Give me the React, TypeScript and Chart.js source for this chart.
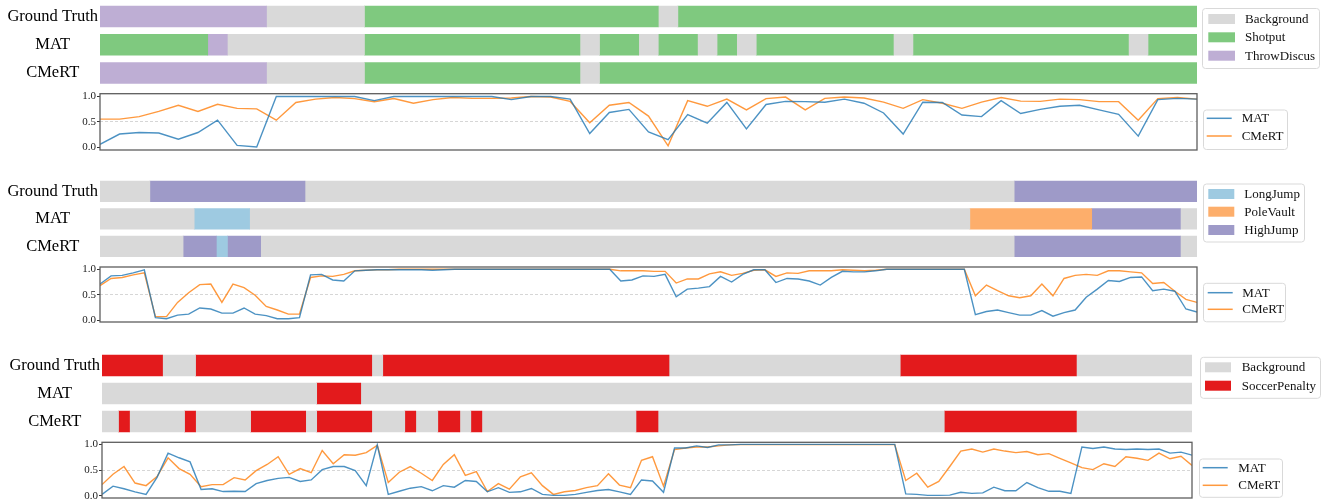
import React, { useEffect, useRef } from 'react';
import { Chart, registerables } from 'chart.js';

Chart.register(...registerables);

const PAGE_W = 1329;
const SERIF = '"Liberation Serif", "Times New Roman", Times, serif';

const ROW_LABELS = ['Ground Truth', 'MAT', 'CMeRT'];
const SCORE_NAMES = ['MAT', 'CMeRT'];
const SCORE_COLORS = ['rgba(31,119,180,0.8)', 'rgba(255,127,14,0.8)'];
const BG = '#d9d9d9';

// Segment runs are [class index, first frame, last frame].

// ---- Clip 1: Shotput / ThrowDiscus (57 frames) ----
const CLIP1_CLASSES = ['Background', 'Shotput', 'ThrowDiscus'];
const CLIP1_COLORS = [BG, '#7fc97f', '#beaed4'];
const CLIP1_LEGEND = [0, 1, 2];
const CLIP1_GT = [[2, 0, 8], [0, 9, 13], [1, 14, 28], [0, 29, 29], [1, 30, 56]];
const CLIP1_MAT = [
  [1, 0, 5], [2, 6, 6], [0, 7, 13], [1, 14, 24], [0, 25, 25], [1, 26, 27], [0, 28, 28],
  [1, 29, 30], [0, 31, 31], [1, 32, 32], [0, 33, 33], [1, 34, 40], [0, 41, 41],
  [1, 42, 52], [0, 53, 53], [1, 54, 56],
];
const CLIP1_CMERT = [[2, 0, 8], [0, 9, 13], [1, 14, 24], [0, 25, 25], [1, 26, 56]];
const CLIP1_MAT_SCORE = [
  0.06, 0.26, 0.29, 0.28, 0.16, 0.29, 0.53, 0.04, 0.01, 0.99,
  0.99, 0.99, 0.99, 0.99, 0.91, 0.99, 0.99, 0.99, 0.99, 0.99,
  0.99, 0.93, 0.99, 0.99, 0.94, 0.27, 0.68, 0.74, 0.30, 0.15,
  0.64, 0.47, 0.875, 0.36, 0.835, 0.895, 0.89, 0.88, 0.94, 0.86,
  0.67, 0.26, 0.88, 0.875, 0.63, 0.60, 0.91, 0.66, 0.74, 0.80,
  0.82, 0.73, 0.645, 0.22, 0.93, 0.955, 0.94,
];
const CLIP1_CMERT_SCORE = [
  0.55, 0.55, 0.60, 0.70, 0.82, 0.70, 0.84, 0.76, 0.75, 0.53,
  0.875, 0.94, 0.97, 0.95, 0.89, 0.95, 0.86, 0.93, 0.97, 0.955,
  0.955, 0.96, 0.99, 0.98, 0.895, 0.48, 0.82, 0.875, 0.61, 0.03,
  0.91, 0.80, 0.94, 0.73, 0.95, 0.98, 0.73, 0.955, 0.98, 0.96,
  0.88, 0.76, 0.93, 0.86, 0.76, 0.88, 0.97, 0.90, 0.895, 0.94,
  0.93, 0.89, 0.89, 0.53, 0.95, 0.97, 0.94,
];

// ---- Clip 2: LongJump / PoleVault / HighJump (100 frames) ----
const CLIP2_CLASSES = ['Background', 'LongJump', 'PoleVault', 'HighJump'];
const CLIP2_COLORS = [BG, '#9ecae1', '#fdae6b', '#9e9ac8'];
const CLIP2_LEGEND = [1, 2, 3];
const CLIP2_GT = [[0, 0, 4], [3, 5, 18], [0, 19, 82], [3, 83, 99]];
const CLIP2_MAT = [[0, 0, 8], [1, 9, 13], [0, 14, 78], [2, 79, 89], [3, 90, 97], [0, 98, 99]];
const CLIP2_CMERT = [
  [0, 0, 7], [3, 8, 10], [1, 11, 11], [3, 12, 14], [0, 15, 82], [3, 83, 97], [0, 98, 99],
];
const CLIP2_MAT_SCORE = [
  0.71, 0.87, 0.88, 0.93, 0.99, 0.05, 0.03, 0.10, 0.12, 0.24,
  0.22, 0.14, 0.14, 0.24, 0.12, 0.09, 0.03, 0.03, 0.05, 0.89,
  0.90, 0.79, 0.77, 0.97, 0.98, 0.99, 0.99, 0.99, 0.99, 0.99,
  0.98, 0.99, 1.0, 1.0, 1.0, 1.0, 1.0, 1.0, 1.0, 1.0,
  1.0, 1.0, 1.0, 1.0, 1.0, 1.0, 1.0, 0.77, 0.79, 0.87,
  0.86, 0.90, 0.46, 0.61, 0.63, 0.66, 0.86, 0.75, 0.90, 0.99,
  0.99, 0.74, 0.82, 0.81, 0.77, 0.69, 0.84, 0.96, 0.95, 0.95,
  0.97, 1.0, 1.0, 1.0, 1.0, 1.0, 1.0, 1.0, 1.0, 0.11,
  0.17, 0.20, 0.15, 0.10, 0.10, 0.19, 0.08, 0.15, 0.20, 0.45,
  0.61, 0.78, 0.76, 0.84, 0.85, 0.58, 0.61, 0.57, 0.22, 0.16,
];
const CLIP2_CMERT_SCORE = [
  0.68, 0.82, 0.84, 0.89, 0.93, 0.07, 0.07, 0.35, 0.54, 0.70,
  0.71, 0.35, 0.71, 0.64, 0.49, 0.27, 0.20, 0.12, 0.12, 0.84,
  0.87, 0.86, 0.90, 0.97, 0.98, 0.99, 0.99, 1.0, 1.0, 1.0,
  1.0, 1.0, 1.0, 1.0, 1.0, 1.0, 1.0, 1.0, 1.0, 1.0,
  1.0, 1.0, 1.0, 1.0, 1.0, 1.0, 1.0, 0.97, 0.97, 0.97,
  0.96, 0.96, 0.73, 0.81, 0.81, 0.91, 0.95, 0.88, 0.92, 0.98,
  0.99, 0.86, 0.93, 0.92, 0.97, 0.97, 0.97, 0.99, 0.98, 0.97,
  0.98, 1.0, 1.0, 1.0, 1.0, 1.0, 1.0, 1.0, 1.0, 0.48,
  0.69, 0.58, 0.48, 0.44, 0.48, 0.71, 0.48, 0.82, 0.88, 0.90,
  0.88, 0.97, 0.97, 0.95, 0.93, 0.72, 0.74, 0.57, 0.41, 0.35,
];

// ---- Clip 3: SoccerPenalty (100 frames) ----
const CLIP3_CLASSES = ['Background', 'SoccerPenalty'];
const CLIP3_COLORS = [BG, '#e31a1c'];
const CLIP3_LEGEND = [0, 1];
const CLIP3_GT = [
  [1, 0, 5], [0, 6, 8], [1, 9, 24], [0, 25, 25], [1, 26, 51], [0, 52, 72], [1, 73, 88], [0, 89, 99],
];
const CLIP3_MAT = [[0, 0, 19], [1, 20, 23], [0, 24, 99]];
const CLIP3_CMERT = [
  [0, 0, 1], [1, 2, 2], [0, 3, 7], [1, 8, 8], [0, 9, 13], [1, 14, 18], [0, 19, 19],
  [1, 20, 24], [0, 25, 27], [1, 28, 28], [0, 29, 30], [1, 31, 32], [0, 33, 33],
  [1, 34, 34], [0, 35, 48], [1, 49, 50], [0, 51, 76], [1, 77, 88], [0, 89, 99],
];
const CLIP3_MAT_SCORE = [
  0.03, 0.19, 0.14, 0.08, 0.03, 0.36, 0.83, 0.74, 0.66, 0.125,
  0.14, 0.085, 0.09, 0.085, 0.24, 0.30, 0.34, 0.36, 0.28, 0.31,
  0.51, 0.57, 0.57, 0.49, 0.20, 0.99, 0.03, 0.09, 0.15, 0.18,
  0.10, 0.20, 0.17, 0.30, 0.28, 0.08, 0.16, 0.07, 0.08, 0.145,
  0.03, 0.01, 0.01, 0.03, 0.07, 0.105, 0.125, 0.08, 0.03, 0.31,
  0.29, 0.07, 0.93, 0.93, 0.97, 0.94, 0.99, 0.99, 1.0, 1.0,
  1.0, 1.0, 1.0, 1.0, 1.0, 1.0, 1.0, 1.0, 1.0, 1.0,
  1.0, 1.0, 1.0, 0.04, 0.03, 0.01, 0.01, 0.015, 0.07, 0.05,
  0.06, 0.17, 0.10, 0.10, 0.26, 0.16, 0.09, 0.09, 0.05, 0.95,
  0.92, 0.95, 0.91, 0.90, 0.91, 0.90, 0.91, 0.83, 0.85, 0.79,
];
const CLIP3_CMERT_SCORE = [
  0.22, 0.42, 0.57, 0.25, 0.20, 0.375, 0.74, 0.53, 0.42, 0.18,
  0.22, 0.22, 0.355, 0.31, 0.49, 0.61, 0.76, 0.42, 0.53, 0.45,
  0.88, 0.625, 0.80, 0.79, 0.84, 0.98, 0.26, 0.46, 0.57, 0.44,
  0.30, 0.61, 0.80, 0.40, 0.47, 0.085, 0.24, 0.13, 0.37, 0.45,
  0.20, 0.03, 0.08, 0.105, 0.16, 0.20, 0.43, 0.21, 0.16, 0.69,
  0.76, 0.19, 0.90, 0.93, 0.95, 0.95, 0.97, 0.99, 0.995, 0.995,
  0.995, 0.995, 0.995, 0.995, 0.995, 0.995, 0.995, 0.995, 0.995, 0.995,
  0.995, 0.995, 0.995, 0.30, 0.44, 0.17, 0.28, 0.57, 0.87, 0.91,
  0.85, 0.91, 0.87, 0.84, 0.86, 0.80, 0.82, 0.73, 0.64, 0.55,
  0.51, 0.625, 0.57, 0.76, 0.73, 0.69, 0.83, 0.72, 0.77, 0.59,
];

const SCORE_TICKS = [0, 0.5, 1];

type LegendItem = { label: string; color: string; line?: boolean };
type LegendBox = {
  x: number; y: number; w: number; h: number;
  markX: number; markW: number; rows: number[]; textX: number;
};

type Panel = {
  classes: string[];
  colors: string[];
  legendIdx: number[];
  runs: number[][][];
  scores: number[][];
  plotLeft: number;
  plotRight: number;
  rowsTop: number;
  rowPitch: number;
  barH: number;
  boxTop: number;
  boxBottom: number;
  yMin: number;
  yMax: number;
  segLegend: LegendBox;
  lineLegend: LegendBox;
};

const PANELS: Panel[] = [
  {
    classes: CLIP1_CLASSES, colors: CLIP1_COLORS, legendIdx: CLIP1_LEGEND,
    runs: [CLIP1_GT, CLIP1_MAT, CLIP1_CMERT],
    scores: [CLIP1_MAT_SCORE, CLIP1_CMERT_SCORE],
    plotLeft: 100, plotRight: 1197,
    rowsTop: 2.4, rowPitch: 28.25, barH: 21,
    boxTop: 93.7, boxBottom: 150, yMin: -0.05, yMax: 1.045,
    segLegend: { x: 1202.5, y: 8.5, w: 117, h: 60, markX: 1208.3, markW: 26.7, rows: [19, 37.3, 55.7], textX: 1245 },
    lineLegend: { x: 1203.5, y: 110, w: 84, h: 39.5, markX: 1206.7, markW: 25, rows: [118.3, 136], textX: 1241.7 },
  },
  {
    classes: CLIP2_CLASSES, colors: CLIP2_COLORS, legendIdx: CLIP2_LEGEND,
    runs: [CLIP2_GT, CLIP2_MAT, CLIP2_CMERT],
    scores: [CLIP2_MAT_SCORE, CLIP2_CMERT_SCORE],
    plotLeft: 100, plotRight: 1197,
    rowsTop: 177.55, rowPitch: 27.5, barH: 20.5,
    boxTop: 267, boxBottom: 322, yMin: -0.035, yMax: 1.045,
    segLegend: { x: 1203.5, y: 184, w: 101, h: 58, markX: 1208.3, markW: 26, rows: [194, 211.7, 230], textX: 1244.3 },
    lineLegend: { x: 1203.5, y: 283.3, w: 82, h: 38.5, markX: 1207.7, markW: 25, rows: [292.7, 309.3], textX: 1242.3 },
  },
  {
    classes: CLIP3_CLASSES, colors: CLIP3_COLORS, legendIdx: CLIP3_LEGEND,
    runs: [CLIP3_GT, CLIP3_MAT, CLIP3_CMERT],
    scores: [CLIP3_MAT_SCORE, CLIP3_CMERT_SCORE],
    plotLeft: 102, plotRight: 1192,
    rowsTop: 351.5, rowPitch: 28, barH: 21,
    boxTop: 442.3, boxBottom: 498, yMin: -0.04, yMax: 1.04,
    segLegend: { x: 1200.5, y: 357.3, w: 120, h: 41, markX: 1205, markW: 26, rows: [367.3, 385.7], textX: 1241.7 },
    lineLegend: { x: 1199.5, y: 459, w: 83, h: 38.3, markX: 1202.7, markW: 25, rows: [467.7, 485.3], textX: 1238.3 },
  },
];

const EDGE = 12; // canvas margin above/below each plot area

function roundRectPath(ctx: CanvasRenderingContext2D, x: number, y: number, w: number, h: number, r: number) {
  ctx.beginPath();
  ctx.moveTo(x + r, y);
  ctx.lineTo(x + w - r, y);
  ctx.arcTo(x + w, y, x + w, y + r, r);
  ctx.lineTo(x + w, y + h - r);
  ctx.arcTo(x + w, y + h, x + w - r, y + h, r);
  ctx.lineTo(x + r, y + h);
  ctx.arcTo(x, y + h, x, y + h - r, r);
  ctx.lineTo(x, y + r);
  ctx.arcTo(x, y, x + r, y, r);
  ctx.closePath();
}

function legendPlugin(box: LegendBox, items: LegendItem[], canvasTop: number) {
  return {
    id: 'boxLegend',
    afterDraw(chart: Chart) {
      const ctx = chart.ctx;
      ctx.save();
      roundRectPath(ctx, box.x, box.y - canvasTop, box.w, box.h, 3);
      ctx.fillStyle = 'rgba(255,255,255,0.85)';
      ctx.fill();
      ctx.strokeStyle = '#d9d9d9';
      ctx.lineWidth = 1;
      ctx.stroke();
      ctx.font = `13px ${SERIF}`;
      ctx.textBaseline = 'middle';
      ctx.textAlign = 'left';
      items.forEach((it, i) => {
        const cy = box.rows[i] - canvasTop;
        if (it.line) {
          ctx.strokeStyle = it.color;
          ctx.lineWidth = 1.5;
          ctx.beginPath();
          ctx.moveTo(box.markX, cy);
          ctx.lineTo(box.markX + box.markW, cy);
          ctx.stroke();
        } else {
          ctx.fillStyle = it.color;
          ctx.fillRect(box.markX, cy - 5, box.markW, 10);
        }
        ctx.fillStyle = '#111';
        ctx.fillText(it.label, box.textX, cy + 0.5);
      });
      ctx.restore();
    },
  };
}

const framePlugin = {
  id: 'plotFrame',
  afterDraw(chart: Chart) {
    const { left, top, right, bottom } = chart.chartArea;
    const ctx = chart.ctx;
    ctx.save();
    ctx.strokeStyle = '#5e5e5e';
    ctx.lineWidth = 1.3;
    ctx.strokeRect(left, top, right - left, bottom - top);
    ctx.restore();
  },
};

function segmentConfig(p: Panel, canvasTop: number, height: number) {
  const nFrames = p.scores[0].length;
  const datasets: any[] = [];
  p.runs.forEach((rowRuns, r) => {
    rowRuns.forEach(([c, a, b]) => {
      const data: any[] = [null, null, null];
      data[r] = [a - 0.5, b + 0.5];
      datasets.push({
        label: p.classes[c],
        data,
        backgroundColor: p.colors[c],
        borderWidth: 0,
        barThickness: p.barH,
        grouped: false,
      });
    });
  });
  const padTop = p.rowsTop - canvasTop;
  const padBottom = height - padTop - 3 * p.rowPitch;
  const items: LegendItem[] = p.legendIdx.map((i) => ({ label: p.classes[i], color: p.colors[i] }));
  return {
    type: 'bar',
    data: { labels: ROW_LABELS, datasets },
    options: {
      indexAxis: 'y',
      animation: false,
      responsive: false,
      maintainAspectRatio: false,
      events: [],
      layout: { padding: { left: 0, right: PAGE_W - p.plotRight, top: padTop, bottom: padBottom } },
      scales: {
        x: { type: 'linear', min: 0, max: nFrames - 1, display: false },
        y: {
          type: 'category',
          offset: true,
          grid: { display: false, drawTicks: false },
          border: { display: false },
          ticks: {
            crossAlign: 'center',
            padding: 2,
            color: '#000',
            font: { family: SERIF, size: 16.5 },
          },
          afterFit: (s: any) => { s.width = p.plotLeft; },
        },
      },
      plugins: { legend: { display: false }, tooltip: { enabled: false } },
    },
    plugins: [legendPlugin(p.segLegend, items, canvasTop)],
  };
}

function scoreConfig(p: Panel, canvasTop: number, height: number) {
  const nFrames = p.scores[0].length;
  const frames = p.scores[0].map((_, i) => i);
  const padTop = p.boxTop - canvasTop;
  const padBottom = canvasTop + height - p.boxBottom;
  const items: LegendItem[] = SCORE_NAMES.map((n, i) => ({ label: n, color: SCORE_COLORS[i], line: true }));
  return {
    type: 'line',
    data: {
      labels: frames,
      datasets: p.scores.map((s, i) => ({
        label: SCORE_NAMES[i],
        data: s,
        borderColor: SCORE_COLORS[i],
        borderWidth: 1.4,
        pointRadius: 0,
        tension: 0,
        fill: false,
      })),
    },
    options: {
      animation: false,
      responsive: false,
      maintainAspectRatio: false,
      events: [],
      layout: { padding: { left: 0, right: PAGE_W - p.plotRight, top: padTop, bottom: padBottom } },
      scales: {
        x: { type: 'linear', min: 0, max: nFrames - 1, display: false },
        y: {
          min: p.yMin,
          max: p.yMax,
          afterBuildTicks: (s: any) => { s.ticks = SCORE_TICKS.map((v) => ({ value: v })); },
          ticks: {
            callback: (v: any) => Number(v).toFixed(1),
            padding: 1,
            color: '#222',
            font: { family: SERIF, size: 11 },
          },
          grid: {
            color: (c: any) => (c.tick && c.tick.value === 0.5 ? 'rgba(190,190,190,0.8)' : 'rgba(0,0,0,0)'),
            lineWidth: 0.8,
            drawTicks: true,
            tickLength: 3,
            tickColor: '#333',
            tickWidth: 1,
            tickBorderDash: [],
          },
          border: { display: false, dash: [3, 2] },
          afterFit: (s: any) => { s.width = p.plotLeft; },
        },
      },
      plugins: { legend: { display: false }, tooltip: { enabled: false } },
    },
    plugins: [framePlugin, legendPlugin(p.lineLegend, items, canvasTop)],
  };
}

function ChartCanvas({ top, height, make }: { top: number; height: number; make: (t: number, h: number) => any }) {
  const ref = useRef<HTMLCanvasElement>(null);
  useEffect(() => {
    if (!ref.current) return;
    const chart = new Chart(ref.current, make(top, height));
    return () => chart.destroy();
  }, []);
  return (
    <canvas
      ref={ref}
      width={PAGE_W}
      height={height}
      style={{ position: 'absolute', left: 0, top, width: PAGE_W, height }}
    />
  );
}

function ClipPanel({ p }: { p: Panel }) {
  const segTop = Math.floor(p.rowsTop - EDGE);
  const segH = Math.ceil(3 * p.rowPitch + 2 * EDGE + 1);
  const lineTop = Math.floor(p.boxTop - EDGE);
  const lineH = Math.ceil(p.boxBottom - p.boxTop + 2 * EDGE + 1);
  return (
    <>
      <ChartCanvas top={segTop} height={segH} make={(t, h) => segmentConfig(p, t, h)} />
      <ChartCanvas top={lineTop} height={lineH} make={(t, h) => scoreConfig(p, t, h)} />
    </>
  );
}

export default function App() {
  return (
    <div
      style={{
        position: 'absolute',
        left: 0,
        top: 0,
        width: PAGE_W,
        height: 504,
        overflow: 'hidden',
        background: '#fff',
      }}
    >
      {PANELS.map((p, i) => (
        <ClipPanel key={i} p={p} />
      ))}
    </div>
  );
}
